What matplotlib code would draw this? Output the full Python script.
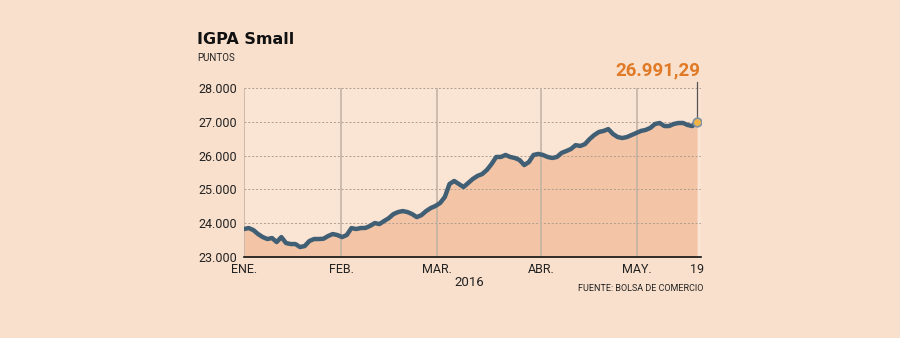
import matplotlib.pyplot as plt

# IGPA Small, daily close (trading days, Jan 4 - May 19 2016)
values = [
    23828, 23857, 23798, 23680, 23591, 23532, 23561, 23443, 23590, 23413,
    23384, 23384, 23295, 23325, 23473, 23532, 23532, 23540, 23620, 23680,
    23650, 23590, 23650, 23857, 23828, 23857, 23860, 23920, 24005, 23975,
    24065, 24150, 24270, 24330, 24360, 24330, 24270, 24180, 24240, 24360,
    24450, 24510, 24600, 24775, 25160, 25250, 25160, 25070, 25190, 25310,
    25400, 25455, 25575, 25750, 25960, 25960, 26020, 25960, 25930, 25870,
    25720, 25810, 26020, 26050, 26020, 25960, 25930, 25960, 26080, 26135,
    26195, 26310, 26285, 26340, 26490, 26610, 26700, 26730, 26785, 26640,
    26550, 26520, 26550, 26610, 26670, 26730, 26760, 26820, 26935, 26965,
    26875, 26875, 26935, 26965, 26965, 26905, 26875, 26991.29,
]
month_pos = [0, 20.8, 41.3, 63.6, 84.2, 97]
month_labels = ["ENE.", "FEB.", "MAR.", "ABR.", "MAY.", "19"]
y_ticks = [23000, 24000, 25000, 26000, 27000, 28000]
y_labels = ["23.000", "24.000", "25.000", "26.000", "27.000", "28.000"]
last_label = "26.991,29"

bg = "#f9e0cd"
fill_c = "#f3c5a6"
line_c = "#415f74"
orange = "#e07a26"
txt = "#222222"

plt.rcParams["font.family"] = ["Roboto", "DejaVu Sans"]

fig = plt.figure(figsize=(9, 3.38), dpi=100, facecolor=bg)
ax = fig.add_axes([0.2711, 0.2396, 0.5078, 0.5])
ax.set_facecolor("#fae4d4")

x = list(range(len(values)))
ax.fill_between(x, values, 23000, color=fill_c, lw=0, zorder=1)
ax.plot(x, values, color=line_c, lw=3.2, solid_capstyle="round",
        solid_joinstyle="round", zorder=3)
ax.scatter([x[-1]], [values[-1]], s=38, color="#f2b545", edgecolor="#7d93a5",
           linewidth=1.2, zorder=5)

ax.set_xlim(0, 97.85)
ax.set_ylim(23000, 28000)

for yv in y_ticks[1:]:
    ax.axhline(yv, color="#ad9d8e", lw=0.7, ls=(0, (2, 2)), zorder=2)
for xv in month_pos[:-1]:
    ax.axvline(xv, color="#c4b4a6", lw=1.2, zorder=2)

for s in ["top", "right", "left"]:
    ax.spines[s].set_visible(False)
ax.spines["bottom"].set_color("#111111")
ax.spines["bottom"].set_linewidth(1.2)
ax.spines["bottom"].set_zorder(6)

ax.set_yticks(y_ticks)
ax.set_yticklabels(y_labels)
ax.set_xticks(month_pos)
ax.set_xticklabels(month_labels)
ax.tick_params(length=0, labelsize=9, colors=txt)
ax.tick_params(axis="y", pad=5)
ax.tick_params(axis="x", pad=4)

# leader line and value label
ax.plot([x[-1], x[-1]], [values[-1], 28180], color="#555555", lw=0.9,
        clip_on=False, zorder=4)
fig.text(0.778, 0.778, last_label, color=orange, fontsize=13.5, fontweight="bold",
         ha="right", va="baseline")

fig.text(0.219, 0.87, "IGPA Small", fontsize=11.5, fontweight="bold", color="#111111",
         ha="left", va="baseline", family=["DejaVu Sans"])
fig.text(0.219, 0.828, "PUNTOS", fontsize=7, color=txt, ha="left", va="center")
fig.text(0.522, 0.163, "2016", fontsize=9.5, color=txt, ha="center", va="center")
fig.text(0.781, 0.147, "FUENTE: BOLSA DE COMERCIO", fontsize=6.5, color=txt,
         ha="right", va="center")

fig.savefig("out.png", dpi=100, facecolor=bg)
